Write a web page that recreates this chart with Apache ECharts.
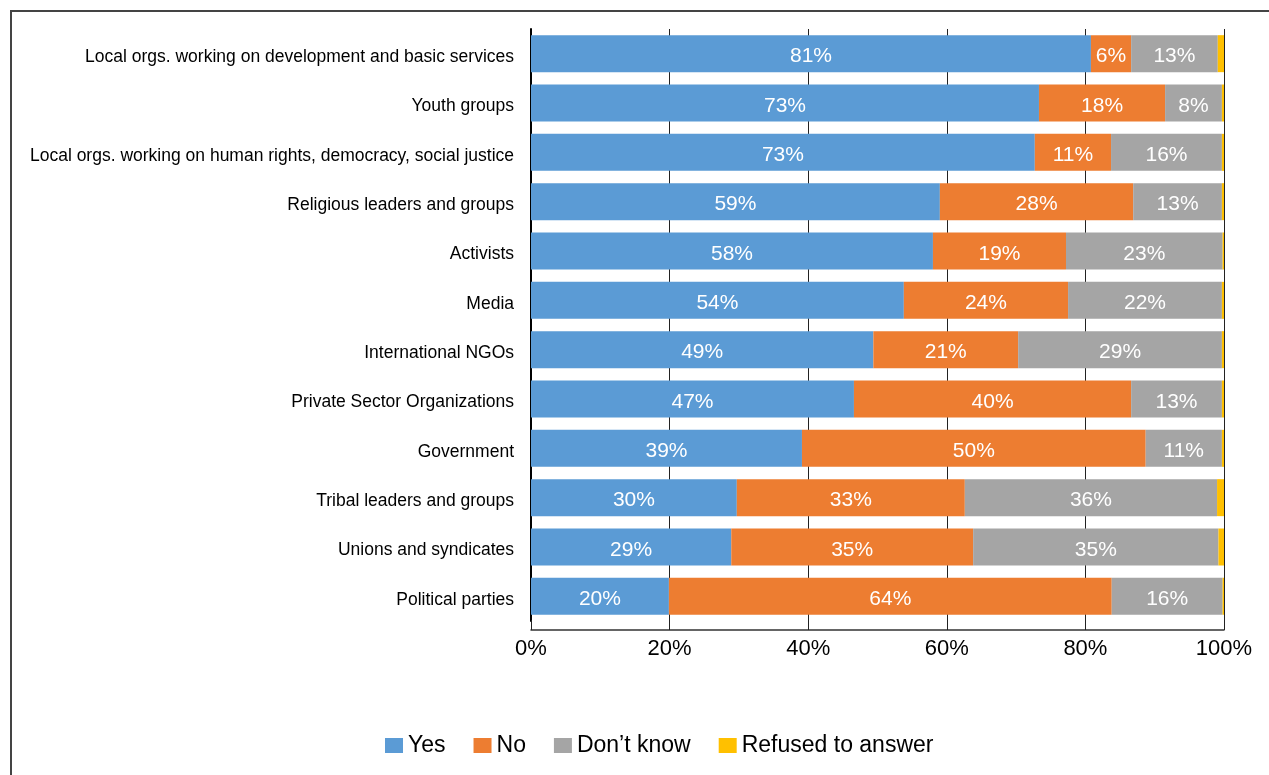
<!DOCTYPE html>
<html>
<head>
<meta charset="utf-8">
<script src="https://cdn.jsdelivr.net/npm/echarts@6/dist/echarts.min.js"></script>
<style>
  html, body { margin: 0; padding: 0; background: #fff; }
  #frame { position: absolute; left: 10px; top: 10px; width: 1300px; height: 800px;
           border-left: 2px solid #444; border-top: 2px solid #444; box-sizing: border-box; }
  #chart { position: absolute; left: 0; top: 0; width: 1269px; height: 775px; }
</style>
</head>
<body>
<div id="frame"></div>
<div id="chart"></div>
<script>
// Groups asked about, top to bottom
const categories = [
  'Local orgs. working on development and basic services',
  'Youth groups',
  'Local orgs. working on human rights, democracy, social justice',
  'Religious leaders and groups',
  'Activists',
  'Media',
  'International NGOs',
  'Private Sector Organizations',
  'Government',
  'Tribal leaders and groups',
  'Unions and syndicates',
  'Political parties'
];

// Share of respondents per answer (%)
const yesValues      = [80.8, 73.3, 72.7, 59.0, 58.0, 53.8, 49.4, 46.6, 39.1, 29.7, 28.9, 19.9];
const noValues       = [5.8, 18.2, 11.0, 27.9, 19.2, 23.7, 20.9, 40.0, 49.6, 32.9, 34.9, 63.9];
const dontKnowValues = [12.5, 8.2, 16.0, 12.8, 22.6, 22.2, 29.4, 13.1, 11.0, 36.4, 35.4, 16.0];
const refusedValues  = [0.9, 0.3, 0.3, 0.3, 0.2, 0.3, 0.3, 0.3, 0.3, 1.0, 0.8, 0.2];

const xTickLabels = ['0%', '20%', '40%', '60%', '80%', '100%'];

const FONT = '"Liberation Sans", Arial, sans-serif';
const GRID_COLOR = '#222';

function segment(name, data, color, showLabel) {
  return {
    name: name,
    type: 'bar',
    stack: 'total',
    data: data,
    barWidth: 37,
    itemStyle: { color: color },
    label: {
      show: showLabel,
      position: 'inside',
      offset: [0, 3],
      color: '#fff',
      fontFamily: FONT,
      fontSize: 21,
      formatter: p => Math.round(p.value) + '%'
    },
    emphasis: { disabled: true }
  };
}

const chart = echarts.init(document.getElementById('chart'), null, { renderer: 'canvas' });
chart.setOption({
  animation: false,
  backgroundColor: 'transparent',
  grid: { left: 531, right: 45, top: 29, bottom: 154, containLabel: false },
  legend: {
    top: 729,
    left: 380,
    itemWidth: 18,
    itemHeight: 15,
    itemGap: 28,
    icon: 'rect',
    textStyle: { fontFamily: FONT, fontSize: 23, color: '#000' },
    data: ['Yes', 'No', 'Don\u2019t know', 'Refused to answer']
  },
  xAxis: {
    type: 'value',
    min: 0,
    max: 100,
    interval: 20,
    offset: 9,
    axisLine: { show: true, lineStyle: { color: '#333', width: 1.5 } },
    // inside ticks join the grid lines down to the shifted axis line
    axisTick: { show: true, inside: true, length: 10, lineStyle: { color: GRID_COLOR, width: 1 } },
    splitLine: { show: true, lineStyle: { color: GRID_COLOR, width: 1 } },
    axisLabel: {
      fontFamily: FONT, fontSize: 22, color: '#000', margin: 8,
      formatter: v => xTickLabels[Math.round(v / 20)]
    }
  },
  yAxis: {
    type: 'category',
    inverse: true,
    data: categories,
    axisLine: { show: true, lineStyle: { color: '#000', width: 2 } },
    axisTick: { show: false },
    axisLabel: {
      color: '#000', margin: 17,
      formatter: v => '{c|' + v + '}',
      rich: { c: { fontFamily: FONT, fontSize: 17.5, color: '#000', padding: [7, 0, 0, 0] } }
    }
  },
  series: [
    segment('Yes', yesValues, '#5b9bd5', true),
    segment('No', noValues, '#ed7d31', true),
    segment('Don\u2019t know', dontKnowValues, '#a5a5a5', true),
    segment('Refused to answer', refusedValues, '#ffc000', false)
  ]
});
</script>
</body>
</html>
